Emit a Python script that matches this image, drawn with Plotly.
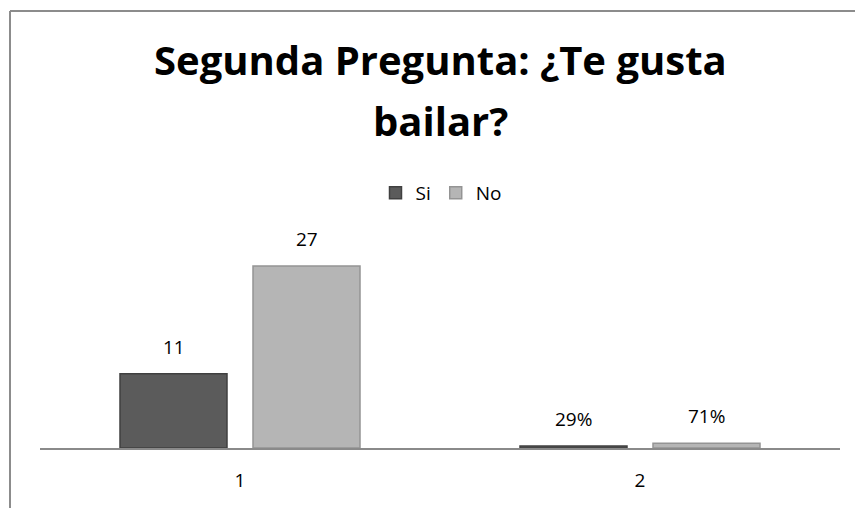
import plotly.graph_objects as go

categories = ["1", "2"]
si_values = [11, 0.29]
no_values = [27, 0.71]
si_labels = ["11", "29%"]
no_labels = ["27", "71%"]
series_names = ["Si", "No"]
title_lines = ["Segunda Pregunta: ¿Te gusta", "bailar?"]

W, H = 855, 508
L, R, T, B = 40, 15, 245, 60
PW, PH = W - L - R, H - T - B
YMAX = 30.1

def py(pix):
    return (H - B - pix) / PH

def px(pix):
    return (pix - L) / PW

FONT = "Open Sans, sans-serif"
BAR_W = 0.2675
SI_OFF = -0.3
NO_OFF = 0.0325

fig = go.Figure()
fig.add_trace(go.Bar(
    name=series_names[0], x=categories, y=si_values,
    offset=SI_OFF, width=BAR_W,
    marker=dict(color="#5b5b5b", line=dict(color="#404040", width=1.5)),
))
fig.add_trace(go.Bar(
    name=series_names[1], x=categories, y=no_values,
    offset=NO_OFF, width=BAR_W,
    marker=dict(color="#b5b5b5", line=dict(color="#949494", width=1.5)),
))

annotations = []
for i, (v, t) in enumerate(zip(si_values, si_labels)):
    annotations.append(dict(x=i + SI_OFF + BAR_W / 2, y=v, xref="x", yref="y",
                            text=t, showarrow=False, yanchor="bottom", yshift=12,
                            font=dict(family=FONT, size=19, color="#000")))
for i, (v, t) in enumerate(zip(no_values, no_labels)):
    annotations.append(dict(x=i + NO_OFF + BAR_W / 2, y=v, xref="x", yref="y",
                            text=t, showarrow=False, yanchor="bottom", yshift=12,
                            font=dict(family=FONT, size=19, color="#000")))

annotations.append(dict(x=0.5, y=py(60), xref="paper", yref="paper", text="<b>" + title_lines[0] + "</b>",
                        showarrow=False, xanchor="center", yanchor="middle",
                        font=dict(family=FONT, size=40, color="#000")))
annotations.append(dict(x=0.5, y=py(120), xref="paper", yref="paper", text="<b>" + title_lines[1] + "</b>",
                        showarrow=False, xanchor="center", yanchor="middle",
                        font=dict(family=FONT, size=40, color="#000")))

shapes = [
    dict(type="line", xref="paper", yref="paper", x0=px(10), x1=px(W + 20), y0=py(11), y1=py(11),
         line=dict(color="#8c8c8c", width=2)),
    dict(type="line", xref="paper", yref="paper", x0=px(10), x1=px(10), y0=py(11), y1=py(H + 20),
         line=dict(color="#8c8c8c", width=2)),
]

fig.update_layout(
    width=W, height=H,
    margin=dict(l=L, r=R, t=T, b=B, pad=0),
    paper_bgcolor="white", plot_bgcolor="white",
    barmode="group",
    showlegend=True,
    legend=dict(orientation="h", x=px(441), xanchor="center", y=py(193), yanchor="middle",
                font=dict(family=FONT, size=19, color="#000"), bgcolor="rgba(0,0,0,0)",
                itemwidth=30),
    xaxis=dict(type="category", showline=True, linecolor="#8a8a8a", linewidth=1.5,
               ticks="", showgrid=False, tickfont=dict(family=FONT, size=19, color="#000"),
               ticklabelstandoff=14),
    yaxis=dict(range=[0, YMAX], visible=False, showgrid=False, zeroline=False),
    annotations=annotations,
    shapes=shapes,
)

fig.write_html("out.html", config={"displayModeBar": False},
               post_script="document.body.style.margin='0px';document.body.style.overflow='hidden';")
